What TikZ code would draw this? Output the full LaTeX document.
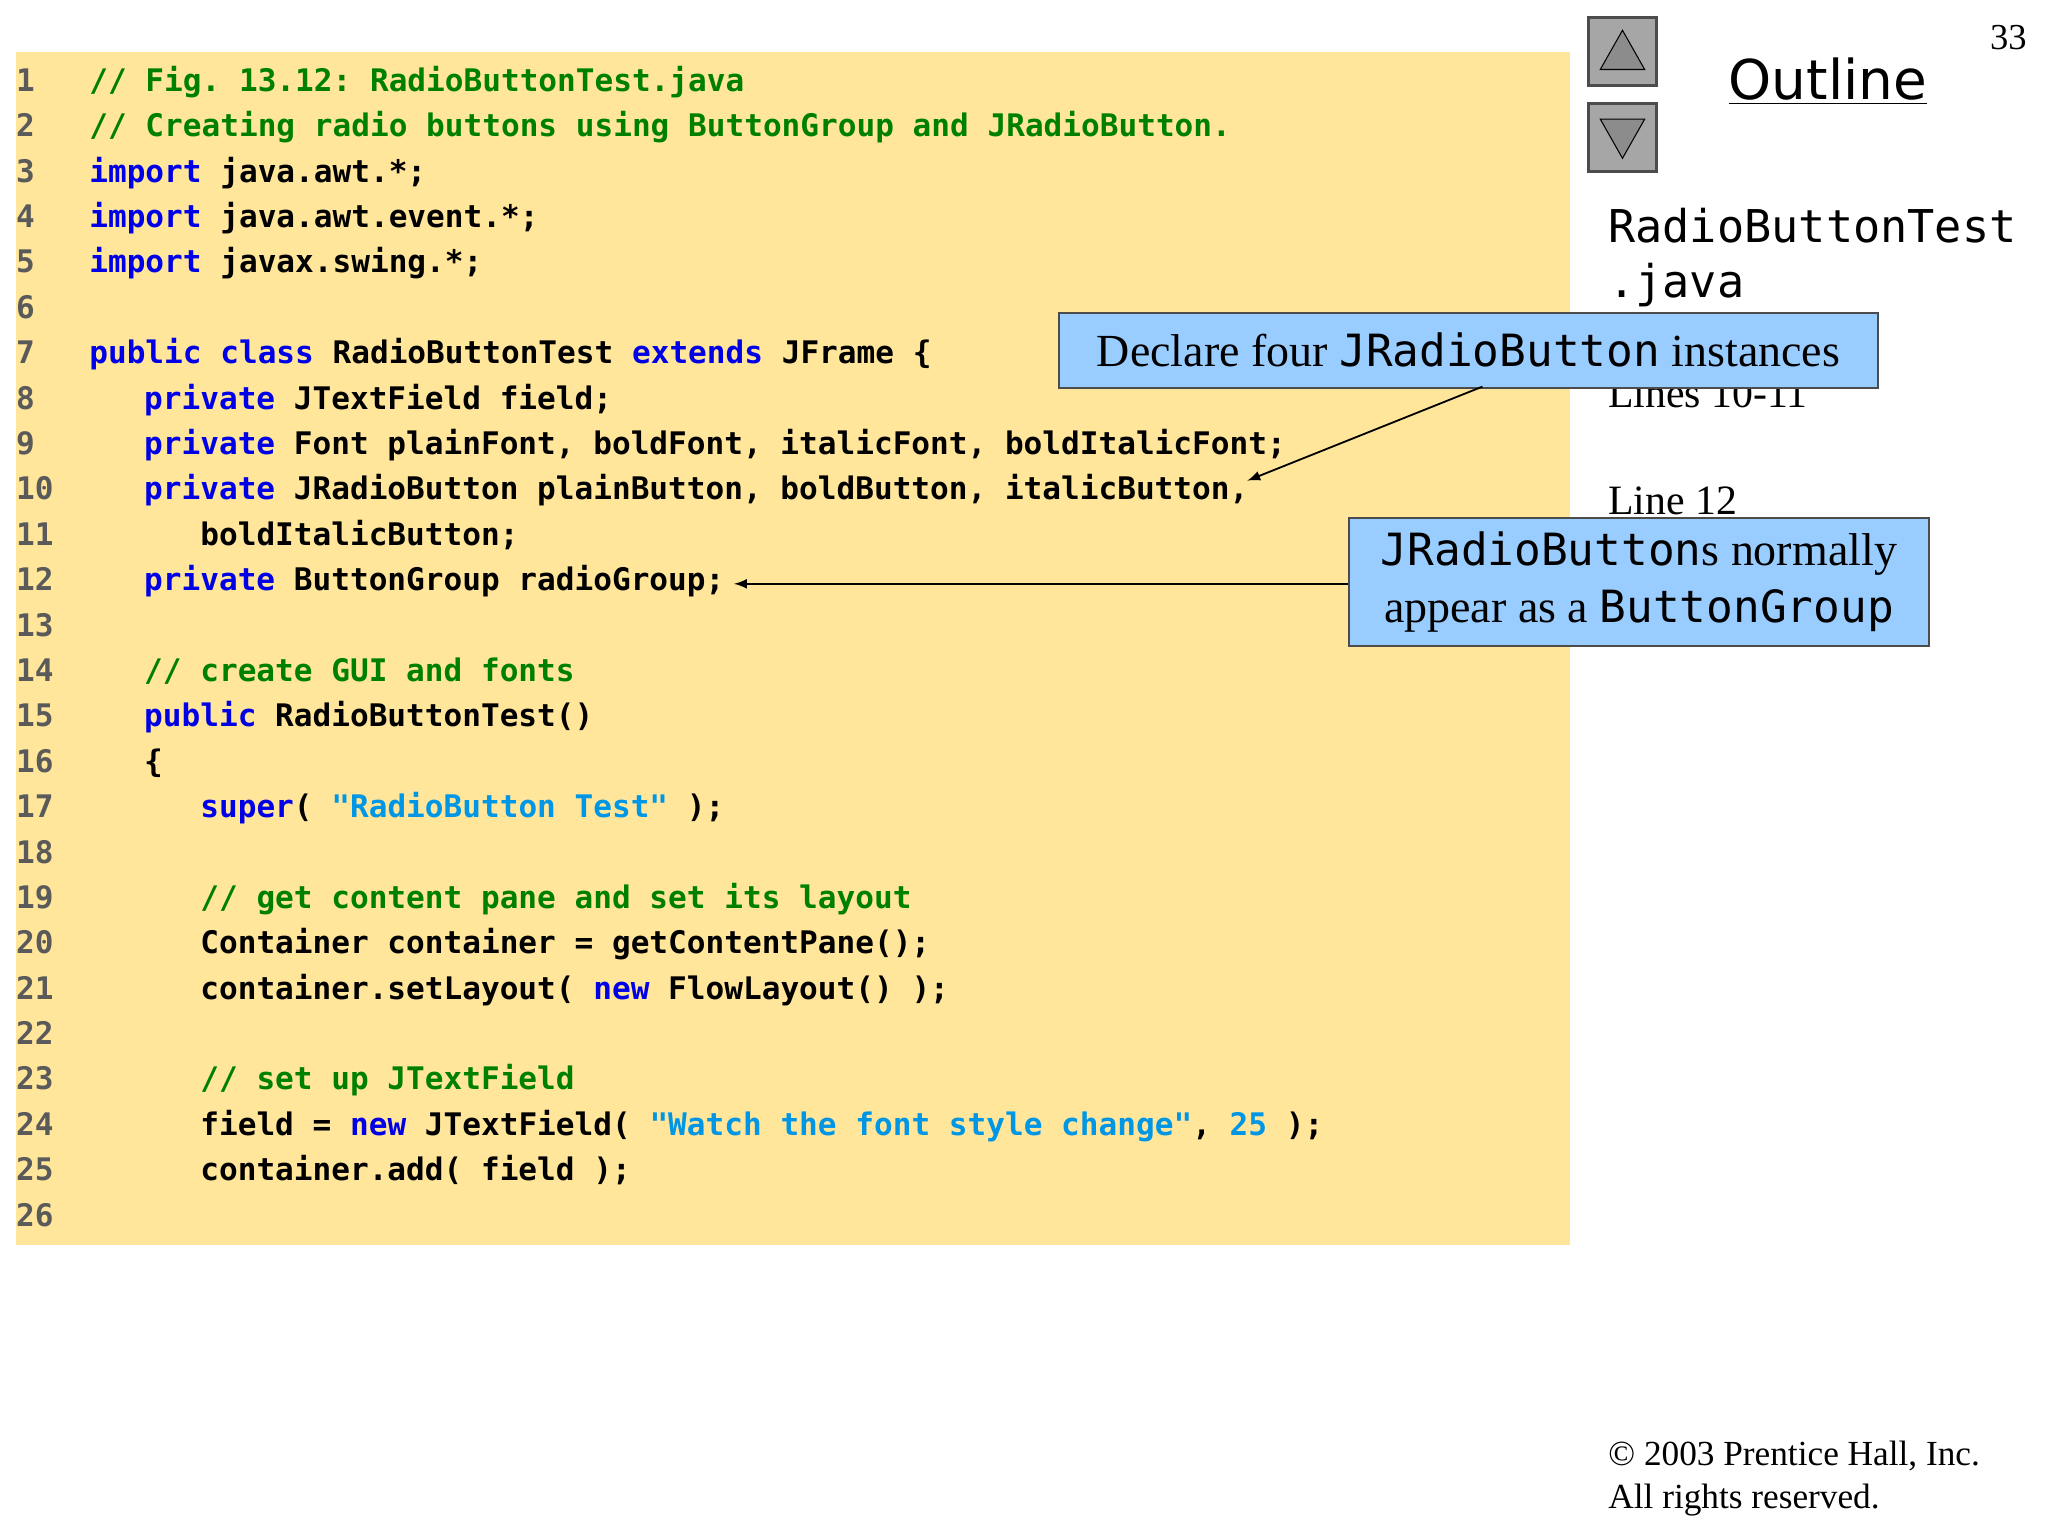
\documentclass[tikz,border=0pt]{standalone}
\usepackage{fontspec}
\setmainfont{Liberation Serif}
\newfontfamily\codefont{DejaVu Sans Mono}[Scale=1]
\newfontfamily\sansf{DejaVu Sans}
\definecolor{kw}{RGB}{0,0,230}
\definecolor{cm}{RGB}{0,128,0}
\definecolor{st}{RGB}{0,150,230}
\definecolor{ln}{RGB}{90,90,90}
\definecolor{bg}{RGB}{255,230,155}
\definecolor{callout}{RGB}{153,204,255}
\newcommand\kw[1]{\textcolor{kw}{#1}}
\newcommand\cm[1]{\textcolor{cm}{#1}}
\newcommand\st[1]{\textcolor{st}{#1}}
\frenchspacing
\begin{document}
\begin{tikzpicture}[x=0.5pt,y=-0.5pt,
  code/.style={anchor=base west,inner sep=0,font=\codefont\bfseries\fontsize{11.9}{14}\selectfont},
  num/.style={anchor=base west,inner sep=0,text=ln,font=\codefont\bfseries\fontsize{11.9}{14}\selectfont},
  calloutbox/.style={draw=black!70,fill=callout,inner sep=0,line width=0.8pt},
  ctext/.style={font=\fontsize{17.6}{22}\selectfont,align=center},
  arr/.style={-latex,line width=0.7pt}]
\useasboundingbox (0,0) rectangle (1568,1176);
\fill[bg] (12,40) rectangle (1202,953);
\foreach \i in {1,...,26}{\node[num] (n\i) at (12,{62+(\i-1)*34.75+8}) {\i};}
\def\Y#1{{62+(#1-1)*34.75+8}}
\node[code] (l1) at (68,\Y1) {\cm{// Fig. 13.12: RadioButtonTest.java}};
\node[code] (l2) at (68,\Y2) {\cm{// Creating radio buttons using ButtonGroup and JRadioButton.}};
\node[code] (l3) at (68,\Y3) {\kw{import} java.awt.*;};
\node[code] (l4) at (68,\Y4) {\kw{import} java.awt.event.*;};
\node[code] (l5) at (68,\Y5) {\kw{import} javax.swing.*;};
\node[code] (l7) at (68,\Y7) {\kw{public} \kw{class} RadioButtonTest \kw{extends} JFrame \{};
\node[code] (l8) at (110,\Y8) {\kw{private} JTextField field;};
\node[code] (l9) at (110,\Y9) {\kw{private} Font plainFont, boldFont, italicFont, boldItalicFont;};
\node[code] (l10) at (110,\Y{10}) {\kw{private} JRadioButton plainButton, boldButton, italicButton,};
\node[code] (l11) at (153,\Y{11}) {boldItalicButton;};
\node[code] (l12) at (110,\Y{12}) {\kw{private} ButtonGroup radioGroup;};
\node[code] (l14) at (110,\Y{14}) {\cm{// create GUI and fonts}};
\node[code] (l15) at (110,\Y{15}) {\kw{public} RadioButtonTest()};
\node[code] (l16) at (110,\Y{16}) {\{};
\node[code] (l17) at (153,\Y{17}) {\kw{super}( \st{"RadioButton Test"} );};
\node[code] (l19) at (153,\Y{19}) {\cm{// get content pane and set its layout}};
\node[code] (l20) at (153,\Y{20}) {Container container = getContentPane();};
\node[code] (l21) at (153,\Y{21}) {container.setLayout( \kw{new} FlowLayout() );};
\node[code] (l23) at (153,\Y{23}) {\cm{// set up JTextField}};
\node[code] (l24) at (153,\Y{24}) {field = \kw{new} JTextField( \st{"Watch the font style change"}, \st{25} );};
\node[code] (l25) at (153,\Y{25}) {container.add( field );};
% right panel
\node[anchor=base east,inner sep=0,font=\fontsize{14}{16}\selectfont] (pg) at (1552,38) {33};
\foreach \yy/\nm in {12/up,78/down}{
  \node[draw=black!70,fill=black!35,line width=1.2pt,minimum size=26pt,inner sep=0,anchor=north west] (\nm) at (1215,\yy) {};}
\fill[black!45,draw=black] ([shift={(0,-16)}]up.center) -- ([shift={(-17,14)}]up.center) -- ([shift={(17,14)}]up.center) -- cycle;
\fill[black!45,draw=black] ([shift={(0,16)}]down.center) -- ([shift={(-17,-14)}]down.center) -- ([shift={(17,-14)}]down.center) -- cycle;
\node[anchor=base west,inner sep=0,font=\sansf\fontsize{21}{25}\selectfont] (ol) at (1323,76) {\underline{Outline}};
\node[anchor=base west,inner sep=0,font=\codefont\fontsize{17.3}{21}\selectfont,align=left] (fn) at (1231,186) {RadioButtonTest};
\node[anchor=base west,inner sep=0,font=\codefont\fontsize{17.3}{21}\selectfont] (fn2) at (1231,228) {.java};
\node[anchor=base west,inner sep=0,font=\fontsize{16}{20}\selectfont] (ll1) at (1231,312) {Lines 10-11};
\node[anchor=base west,inner sep=0,font=\fontsize{16}{20}\selectfont] (ll2) at (1231,394) {Line 12};
% callouts
\node[calloutbox,minimum width=313.5pt,minimum height=28.5pt,anchor=north west] (c1) at (810,239) {};
\node[ctext] at (c1.center) {Declare four {\codefont\fontsize{17}{21}\selectfont JRadioButton} instances};
\node[calloutbox,minimum width=222pt,minimum height=49pt,anchor=north west] (c2) at (1032,396) {};
\node[ctext] at (c2.center) {{\codefont\fontsize{17}{21}\selectfont JRadioButton}s normally\\ appear as a {\codefont\fontsize{17}{21}\selectfont ButtonGroup}};
\coordinate (a1s) at (1135,296);
\coordinate (a1e) at (955,368);
\draw[arr] (a1s) -- (a1e);
\coordinate (a2e) at (562,447);
\draw[arr] (c2.west |- a2e) -- (a2e);
\node[anchor=base west,inner sep=0,font=\fontsize{13.5}{16}\selectfont,align=left] (cp) at (1231,1122) {\textcopyright{} 2003 Prentice Hall, Inc.};
\node[anchor=base west,inner sep=0,font=\fontsize{13.5}{16}\selectfont] (cp2) at (1231,1155) {All rights reserved.};
\end{tikzpicture}
\end{document}
